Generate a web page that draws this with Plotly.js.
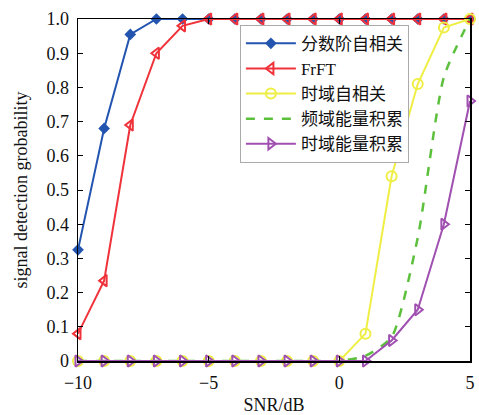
<!DOCTYPE html>
<html>
<head>
<meta charset="utf-8">
<script src="https://cdn.plot.ly/plotly-3.0.1.min.js"></script>
<style>html,body{margin:0;padding:0;background:#fff;}#chart{width:479px;height:415px;}</style>
</head>
<body>
<div id="chart"></div>
<script>
var snr = [-10,-9,-8,-7,-6,-5,-4,-3,-2,-1,0,1,2,3,4,5];
var fracAuto = [0.325,0.68,0.955,1,1,1,1,1,1,1,1,1,1,1,1,1];
var frft = [0.08,0.235,0.69,0.90,0.98,1,1,1,1,1,1,1,1,1,1,1];
var timeAuto = [0,0,0,0,0,0,0,0,0,0,0,0.08,0.54,0.81,0.975,1];
var freqEnergy = [0,0,0,0,0,0,0,0,0,0,0,0.015,0.07,0.36,0.83,1];
var timeEnergy = [0,0,0,0,0,0,0,0,0,0,0,0,0.06,0.15,0.40,0.76];
var names = ['分数阶自相关','FrFT','时域自相关','频域能量积累','时域能量积累'];
var xTickVals = [-10,-5,0,5];
var xTickText = ['−10','−5','0','5'];
var yTickVals = [0,0.1,0.2,0.3,0.4,0.5,0.6,0.7,0.8,0.9,1.0];
var yTickText = ['0','0.1','0.2','0.3','0.4','0.5','0.6','0.7','0.8','0.9','1.0'];

var traces = [
  {x:snr, y:fracAuto, name:names[0], mode:'lines+markers',
   line:{color:'#2355b0', width:2}, marker:{symbol:'diamond', size:9, color:'#2355b0'}},
  {x:snr, y:frft, name:names[1], mode:'lines+markers',
   line:{color:'#f0323a', width:2}, marker:{symbol:'triangle-left-open', size:10, color:'#f0323a', line:{width:2}}},
  {x:snr, y:timeAuto, name:names[2], mode:'lines+markers',
   line:{color:'#eeee44', width:2}, marker:{symbol:'circle-open', size:10, color:'#eeee44', line:{width:2}}},
  {x:snr, y:freqEnergy, name:names[3], mode:'lines', line:{color:'#5cc03c', width:2.5, dash:'dash', shape:'spline', smoothing:0.6}},
  {x:snr, y:timeEnergy, name:names[4], mode:'lines+markers',
   line:{color:'#a050b0', width:2}, marker:{symbol:'triangle-right-open', size:10, color:'#a050b0', line:{width:2}}}
];
traces.forEach(function(t){t.cliponaxis=false;});

var fontFam = '"Liberation Serif", "Times New Roman", "Noto Sans CJK SC", serif';
var layout = {
  width:479, height:415,
  margin:{l:78, r:9, t:19, b:54},
  paper_bgcolor:'#fff', plot_bgcolor:'#fff',
  font:{family:fontFam, size:18, color:'#111'},
  showlegend:true,
  legend:{x:0.413, y:0.983, xanchor:'left', yanchor:'top', bgcolor:'#fff',
          bordercolor:'#aaa', borderwidth:1, font:{family:fontFam, size:17, color:'#111'},
          tracegroupgap:0, itemwidth:50},
  xaxis:{range:[-10,5], tickvals:xTickVals, ticktext:xTickText,
         ticks:'inside', ticklen:5, tickcolor:'#000', showline:true, linecolor:'#000', linewidth:1.5,
         mirror:'ticks', showgrid:false, zeroline:false, ticklabelstandoff:5,
         title:{text:'SNR/dB', font:{size:18}, standoff:6}},
  yaxis:{range:[0,1], tickvals:yTickVals, ticktext:yTickText,
         ticks:'inside', ticklen:5, tickcolor:'#000', showline:true, linecolor:'#000', linewidth:1.5,
         mirror:'ticks', showgrid:false, zeroline:false, ticklabelstandoff:4,
         title:{text:'signal detection grobability', font:{size:18}, standoff:14}}
};
Plotly.newPlot('chart', traces, layout, {displayModeBar:false, staticPlot:true});
</script>
</body>
</html>
